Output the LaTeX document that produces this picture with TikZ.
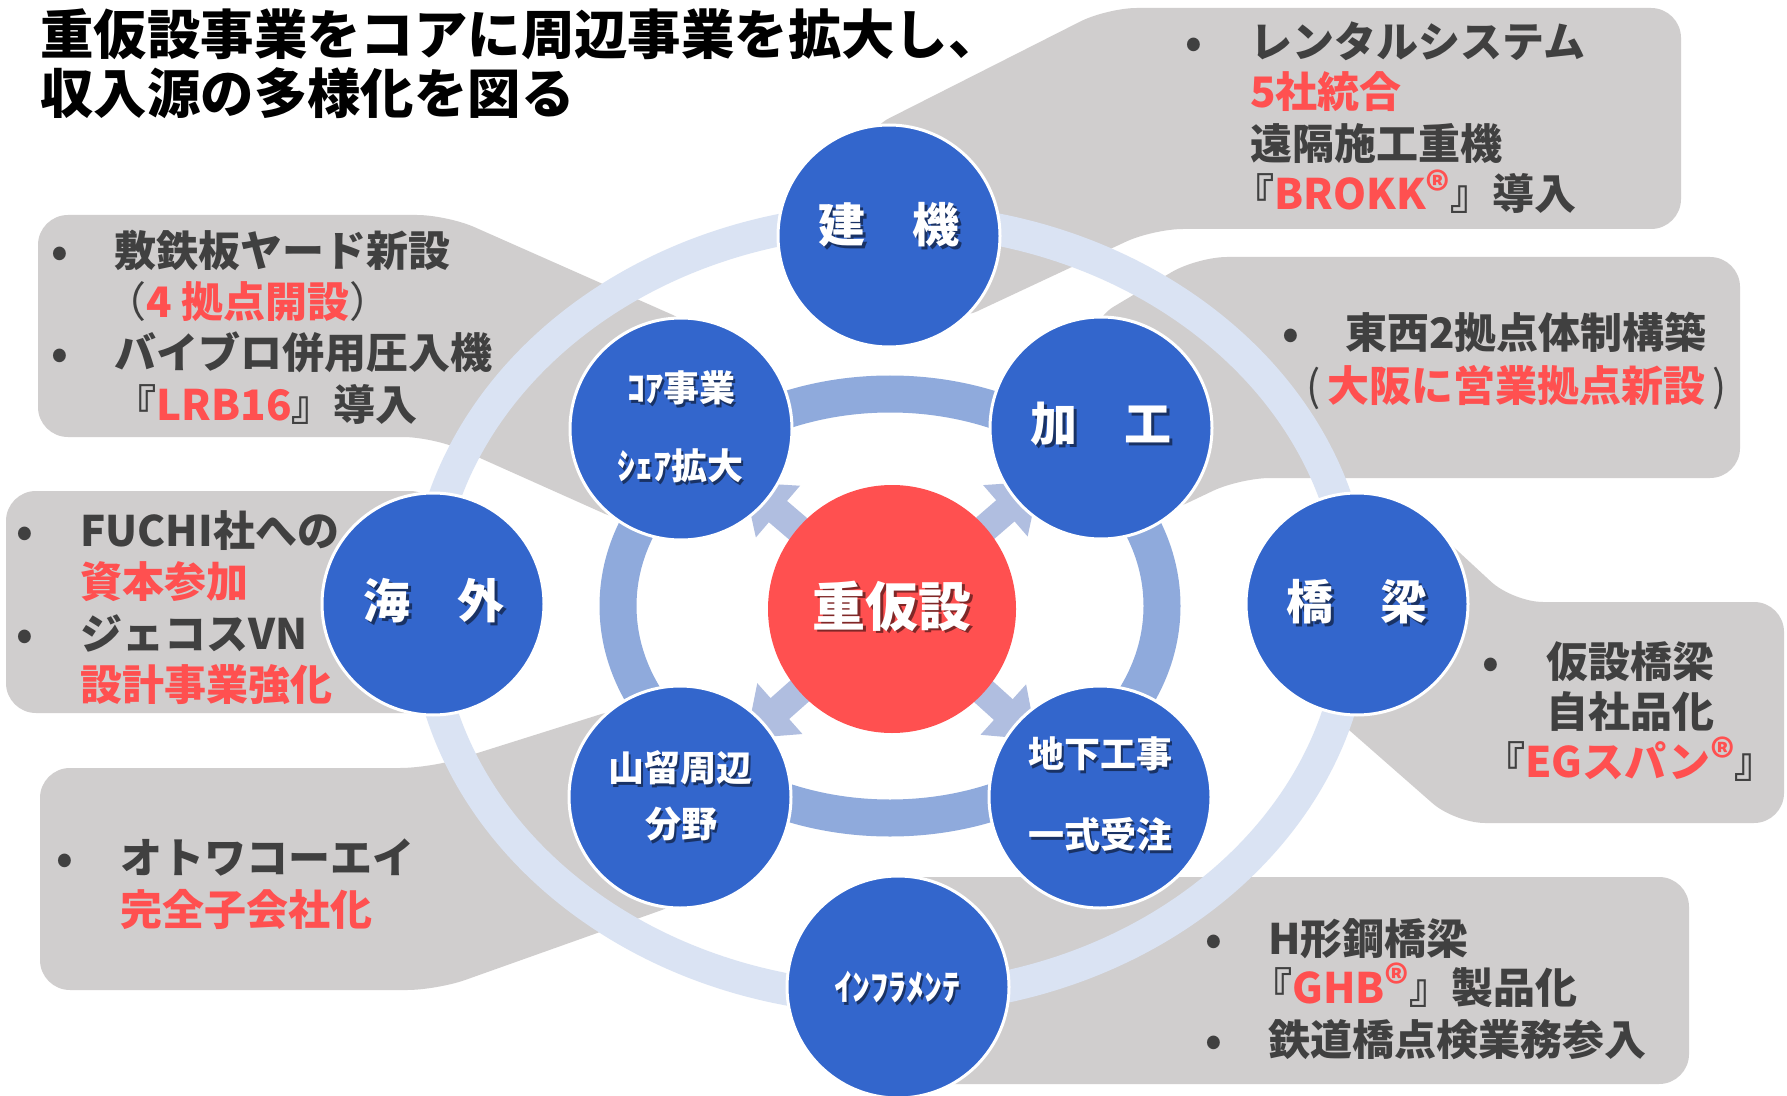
\documentclass[tikz,border=0pt]{standalone}
\usepackage{fontspec}
\newfontfamily\jp{Noto Sans CJK JP}
\usetikzlibrary{calc}
\definecolor{callgray}{HTML}{D0CECE}
\definecolor{txtdark}{HTML}{404040}
\definecolor{txtred}{HTML}{FF5050}
\definecolor{cblue}{HTML}{3366CC}
\definecolor{ringout}{HTML}{DAE3F3}
\definecolor{ringin}{HTML}{8FAADC}
\definecolor{arrowc}{HTML}{B0BEE0}
\definecolor{cred}{HTML}{FF5050}
\newcommand\rd[1]{\textcolor{txtred}{#1}}
\newcommand\reg{\raisebox{0.05em}{\fontsize{23pt}{23pt}\selectfont ®}}
\newcommand\shlab[4]{%
  \node[#2, text=black, text opacity=0.5, xshift=1.3pt, yshift=-1.3pt] (#1s) at #3 {#4};
  \node[#2] (#1) at #3 {#4};}
\begin{document}
\begin{tikzpicture}[x=0.5pt,y=-0.5pt,
  callout/.style={fill=callgray, rounded corners=15pt},
  ttl/.style={font=\jp\bfseries\fontsize{26.7pt}{26.7pt}\selectfont, text=black, inner sep=0pt, anchor=west, text height=23.5pt, text depth=3.2pt},
  ct/.style={font=\jp\bfseries\fontsize{21pt}{21pt}\selectfont, text=txtdark, inner sep=0pt, anchor=west, text height=18.5pt, text depth=2.5pt},
  ctc/.style={ct, anchor=center},
  bul/.style={ct, anchor=center},
  bcirc/.style={circle, fill=cblue, draw=white, line width=1.5pt, minimum size=111pt, inner sep=0pt},
  redc/.style={circle, fill=cred, minimum size=124pt, inner sep=0pt},
  lbig/.style={font=\jp\bfseries\fontsize{23.5pt}{23.5pt}\selectfont, text=white, inner sep=0pt, text height=20.7pt, text depth=2.8pt},
  lsm/.style={font=\jp\bfseries\fontsize{18pt}{18pt}\selectfont, text=white, inner sep=0pt, text height=15.8pt, text depth=2.2pt},
  lred/.style={font=\jp\bfseries\fontsize{26.5pt}{26.5pt}\selectfont, text=white, inner sep=0pt, text height=23.3pt, text depth=3.2pt}
]
\useasboundingbox (0,0) rectangle (1787,1096);
\fill[white] (0,0) rectangle (1787,1096);

% callouts
\fill[callout] (862,132) -- (1107,8) -- (1681,8) -- (1681,229) -- (1153,229) -- (950,324) -- (889,236) -- cycle;
\fill[callout] (1088,322) -- (1197,257) -- (1740,257) -- (1740,478) -- (1240,478) -- (1160,516) -- (1101,428) -- cycle;
\fill[callout] (700,327) -- (447,215) -- (38,215) -- (38,437) -- (433,437) -- (632,526) -- (681,429) -- cycle;
\fill[callout] (6,491) rectangle (440,713);
\fill[callout] (630,705) -- (430,768) -- (40,768) -- (40,990) -- (437,990) -- (690,900) -- (680,797) -- cycle;
\fill[callout] (1420,516) -- (1513,602) -- (1784,602) -- (1784,823) -- (1455,823) -- (1300,687) -- (1357,604) -- cycle;
\fill[callout] (880,877) rectangle (1689,1084);

% rings
\draw[ringout, line width=16pt] (890,609) ellipse [x radius=232.5pt, y radius=195pt];
\draw[ringin, line width=18.5pt] (890,606) ellipse [x radius=136pt, y radius=106pt];

% title
\node[ttl] (t1) at (40,34) {重仮設事業をコアに周辺事業を拡大し、};
\node[ttl] (t2) at (40,93) {収入源の多様化を図る};

% callout texts A
\node[bul] (ab1) at (1194,42) {•};
\node[ct] (a1) at (1250,42) {レンタルシステム};
\node[ct] (a2) at (1250,92) {\rd{5社統合}};
\node[ct] (a3) at (1250,144) {遠隔施工重機};
\node[ct] (a4) at (1232,194) {『\rd{BROKK\reg}』導入};
% B
\node[bul] (bb1) at (1291,333) {•};
\node[ct] (b1) at (1345,333) {東西2拠点体制構築};
\node[ct] (b2) at (1306,385) {\mdseries(\,\bfseries\rd{大阪に営業拠点新設}\mdseries\,)};
% C
\node[bul] (cb1) at (60,251) {•};
\node[ct] (c1) at (114,251) {敷鉄板ヤード新設};
\node[ct] (c2) at (104,302) {\mdseries（\bfseries\rd{4 拠点開設}\mdseries）};
\node[bul] (cb2) at (60,353) {•};
\node[ct] (c3) at (114,353) {バイブロ併用圧入機};
\node[ct] (c4) at (114,405) {『\rd{LRB16}』導入};
% D
\node[bul] (db1) at (25,530) {•};
\node[ct] (d1) at (80,530) {FUCHI社への};
\node[ct] (d2) at (80,581) {\rd{資本参加}};
\node[bul] (db2) at (25,633) {•};
\node[ct] (d3) at (80,633) {ジェコスVN};
\node[ct] (d4) at (80,684) {\rd{設計事業強化}};
% E
\node[bul] (eb1) at (65,857) {•};
\node[ct] (e1) at (120,857) {オトワコーエイ};
\node[ct] (e2) at (120,909) {\rd{完全子会社化}};
% F
\node[bul] (fb1) at (1491,661) {•};
\node[ctc] (f1) at (1630,661) {仮設橋梁};
\node[ctc] (f2) at (1630,711) {自社品化};
\node[ctc] (f3) at (1630,761) {『\rd{EGスパン\reg}』};
% G
\node[bul] (gb1) at (1214,938) {•};
\node[ct] (g1) at (1268,938) {H形鋼橋梁};
\node[ct] (g2) at (1250,987) {『\rd{GHB\reg}』製品化};
\node[bul] (gb2) at (1214,1039) {•};
\node[ct] (g3) at (1268,1039) {鉄道橋点検業務参入};

% small arrows
\foreach \ang in {139.5, 40.9, 221.6, -42.1} {
  \begin{scope}[shift={(892,609)}, rotate=\ang]
    \fill[arrowc] (110,-14) -- (150,-14) -- (150,-34) -- (195,0) -- (150,34) -- (150,14) -- (110,14) -- cycle;
  \end{scope}
}

% circles
\node[redc] (center) at (892,609) {};
\node[bcirc] (kenki) at (889,236) {};
\node[bcirc] (core) at (681,429) {};
\node[bcirc] (kakou) at (1101,428) {};
\node[bcirc] (kaigai) at (433,604) {};
\node[bcirc] (kyou) at (1357,604) {};
\node[bcirc] (yama) at (680,797) {};
\node[bcirc] (chika) at (1100,797) {};
\node[bcirc] (infra) at (898,987) {};

% circle labels
\shlab{lc}{lred}{(892,606)}{重仮設}
\shlab{lk}{lbig}{(889,225)}{建　機}
\shlab{lka}{lbig}{(1101,424)}{加　工}
\shlab{lkg}{lbig}{(434,601)}{海　外}
\shlab{lky}{lbig}{(1357,602)}{橋　梁}
\shlab{lco1}{lsm}{(681,388)}{ｺｱ事業}
\shlab{lco2}{lsm}{(680,466)}{ｼｪｱ拡大}
\shlab{lya1}{lsm}{(680,768)}{山留周辺}
\shlab{lya2}{lsm}{(681,824)}{分野}
\shlab{lch1}{lsm}{(1100,754)}{地下工事}
\shlab{lch2}{lsm}{(1100,835)}{一式受注}
\shlab{lin}{lsm}{(897,987)}{ｲﾝﾌﾗﾒﾝﾃ}
\end{tikzpicture}
\end{document}
